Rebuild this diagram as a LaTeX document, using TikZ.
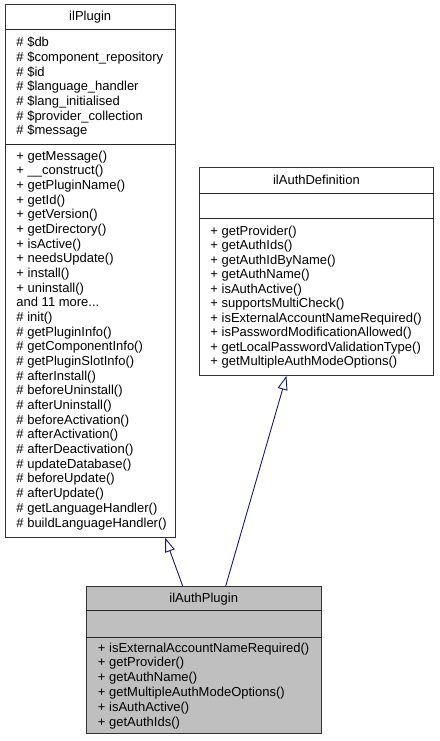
\documentclass[tikz,border=0pt]{standalone}
\usepackage{fontspec}
\setmainfont{Liberation Sans}
\usetikzlibrary{arrows.meta}
\definecolor{edgeblue}{HTML}{191970}
\definecolor{classgray}{HTML}{BFBFBF}
\newcommand{\moremembers}{and 11 more...}
\tikzset{
  every picture/.style={line width=0.9pt},
  classbox/.style={draw=black!80, anchor=north west, inner sep=0pt},
  divider/.style={draw=black!85},
  member/.style={anchor=base west, inner sep=0pt, font=\fontsize{13}{14.6}\selectfont},
  title/.style={anchor=base, inner sep=0pt, font=\fontsize{13}{14.6}\selectfont},
  inherit/.style={draw=edgeblue, -{Triangle[fill=white, length=14pt, width=10pt]}}
}

\begin{document}
\begin{tikzpicture}[x=1pt, y=-1pt]
    \useasboundingbox (0,0) rectangle (439,741);

    \node[classbox, minimum width=170.5pt, minimum height=532.5pt] (plugin) at (4.5,4.5) {};
    \draw[divider] (plugin.west |- 0,29) -- (plugin.east |- 0,29);
    \draw[divider] (plugin.west |- 0,144) -- (plugin.east |- 0,144);
    \node[title] (plugintitle) at (plugin.north |- 0,21) {ilPlugin};
    \foreach \t [count=\i from 0] in {\# \$db, \# \$component\_repository, \# \$id,
        \# \$language\_handler, \# \$lang\_initialised, \# \$provider\_collection, \# \$message}
        \node[member] (pa\i) at (16, 47+14.65*\i) {\t};
    \foreach \t [count=\i from 0] in {+ getMessage(), + \_\_construct(), + getPluginName(),
        + getId(), + getVersion(), + getDirectory(), + isActive(), + needsUpdate(),
        + install(), + uninstall(), \moremembers, \# init(), \# getPluginInfo(),
        \# getComponentInfo(), \# getPluginSlotInfo(), \# afterInstall(),
        \# beforeUninstall(), \# afterUninstall(), \# beforeActivation(),
        \# afterActivation(), \# afterDeactivation(), \# updateDatabase(),
        \# beforeUpdate(), \# afterUpdate(), \# getLanguageHandler(),
        \# buildLanguageHandler()}
        \node[member] (pm\i) at (16, 160+14.68*\i) {\t};

    \node[classbox, minimum width=234pt, minimum height=208pt] (authdef) at (199,167) {};
    \draw[divider] (authdef.west |- 0,193) -- (authdef.east |- 0,193);
    \draw[divider] (authdef.west |- 0,218) -- (authdef.east |- 0,218);
    \node[title] (authdeftitle) at (authdef.north |- 0,184) {ilAuthDefinition};
    \foreach \t [count=\i from 0] in {+ getProvider(), + getAuthIds(), + getAuthIdByName(),
        + getAuthName(), + isAuthActive(), + supportsMultiCheck(),
        + isExternalAccountNameRequired(), + isPasswordModificationAllowed(),
        + getLocalPasswordValidationType(), + getMultipleAuthModeOptions()}
        \node[member] (dm\i) at (210, 235+14.5*\i) {\t};

    \node[classbox, fill=classgray, minimum width=234.5pt, minimum height=147pt] (authplugin) at (86,586) {};
    \draw[divider] (authplugin.west |- 0,610) -- (authplugin.east |- 0,610);
    \draw[divider] (authplugin.west |- 0,637) -- (authplugin.east |- 0,637);
    \node[title] (authplugintitle) at (authplugin.north |- 0,602) {ilAuthPlugin};
    \foreach \t [count=\i from 0] in {+ isExternalAccountNameRequired(), + getProvider(),
        + getAuthName(), + getMultipleAuthModeOptions(), + isAuthActive(), + getAuthIds()}
        \node[member] (am\i) at (97.5, 652+14.9*\i) {\t};

    \draw[inherit] ([xshift=-21pt]authplugin.north) -- ([xshift=75pt]plugin.south);
    \draw[inherit] ([xshift=22pt]authplugin.north) -- ([xshift=-30pt]authdef.south);
\end{tikzpicture}
\end{document}
